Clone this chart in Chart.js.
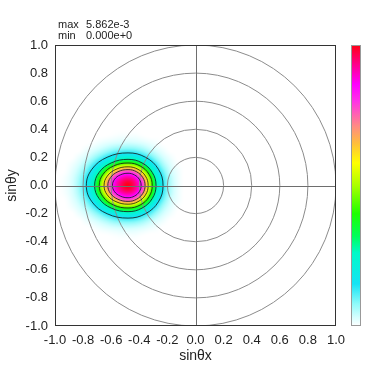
<!DOCTYPE html>
<html>
<head>
<meta charset="utf-8">
<script src="https://cdn.jsdelivr.net/npm/chart.js@4.4.0/dist/chart.umd.min.js"></script>
<style>
  html, body { margin: 0; padding: 0; background: #fff; }
  #wrap { width: 392px; height: 377px; }
</style>
</head>
<body>
<div id="wrap"><canvas id="beamChart"></canvas></div>
<script>
// Axis ticks
var tickMin = -1.0;
var tickMax = 1.0;
var tickStep = 0.2;

// Colour range shown at the top left
var valueMax = 5.862e-3;
var valueMin = 0.0;

// Heat map grid, values in units of 1e-3 (rows from top y=0.35 to bottom y=-0.35)
var gridX = [-0.93, -0.88, -0.83, -0.78, -0.73, -0.68, -0.63, -0.58, -0.53, -0.48,
             -0.43, -0.38, -0.33, -0.28, -0.23, -0.18, -0.13, -0.08, -0.03];
var gridY = [0.35, 0.30, 0.25, 0.20, 0.15, 0.10, 0.05, 0.00,
             -0.05, -0.10, -0.15, -0.20, -0.25, -0.30, -0.35];
var heatValues = [
    [0.00, 0.00, 0.00, 0.00, 0.00, 0.00, 0.01, 0.03, 0.05, 0.05, 0.05, 0.02, 0.00, 0.00, 0.00, 0.00, 0.00, 0.00, 0.00],
    [0.00, 0.00, 0.00, 0.00, 0.03, 0.08, 0.13, 0.17, 0.20, 0.22, 0.20, 0.16, 0.10, 0.05, 0.00, 0.00, 0.00, 0.00, 0.00],
    [0.00, 0.00, 0.00, 0.07, 0.15, 0.25, 0.37, 0.50, 0.58, 0.61, 0.57, 0.45, 0.30, 0.17, 0.07, 0.00, 0.00, 0.00, 0.00],
    [0.00, 0.00, 0.08, 0.18, 0.35, 0.57, 0.84, 1.09, 1.29, 1.37, 1.25, 1.00, 0.69, 0.40, 0.19, 0.07, 0.00, 0.00, 0.00],
    [0.00, 0.06, 0.17, 0.35, 0.66, 1.06, 1.59, 2.19, 2.65, 2.81, 2.57, 1.97, 1.25, 0.75, 0.36, 0.15, 0.03, 0.00, 0.00],
    [0.01, 0.11, 0.27, 0.56, 1.02, 1.71, 2.68, 3.66, 4.37, 4.59, 4.27, 3.27, 2.12, 1.14, 0.58, 0.23, 0.08, 0.00, 0.00],
    [0.04, 0.15, 0.36, 0.75, 1.34, 2.36, 3.64, 4.81, 5.30, 5.47, 5.23, 4.41, 2.86, 1.53, 0.76, 0.32, 0.10, 0.00, 0.00],
    [0.05, 0.16, 0.40, 0.81, 1.48, 2.61, 4.06, 5.06, 5.59, 5.86, 5.51, 4.79, 3.15, 1.68, 0.83, 0.34, 0.11, 0.00, 0.00],
    [0.04, 0.15, 0.36, 0.75, 1.34, 2.36, 3.64, 4.81, 5.30, 5.47, 5.23, 4.41, 2.86, 1.53, 0.76, 0.32, 0.10, 0.00, 0.00],
    [0.01, 0.11, 0.27, 0.56, 1.02, 1.71, 2.68, 3.66, 4.37, 4.59, 4.27, 3.27, 2.12, 1.14, 0.58, 0.23, 0.08, 0.00, 0.00],
    [0.00, 0.06, 0.17, 0.35, 0.66, 1.06, 1.59, 2.19, 2.65, 2.81, 2.57, 1.97, 1.25, 0.75, 0.36, 0.15, 0.03, 0.00, 0.00],
    [0.00, 0.00, 0.08, 0.18, 0.35, 0.57, 0.84, 1.09, 1.29, 1.37, 1.25, 1.00, 0.69, 0.40, 0.19, 0.07, 0.00, 0.00, 0.00],
    [0.00, 0.00, 0.00, 0.07, 0.15, 0.25, 0.37, 0.50, 0.58, 0.61, 0.57, 0.45, 0.30, 0.17, 0.07, 0.00, 0.00, 0.00, 0.00],
    [0.00, 0.00, 0.00, 0.00, 0.03, 0.08, 0.13, 0.17, 0.20, 0.22, 0.20, 0.16, 0.10, 0.05, 0.00, 0.00, 0.00, 0.00, 0.00],
    [0.00, 0.00, 0.00, 0.00, 0.00, 0.00, 0.01, 0.03, 0.05, 0.05, 0.05, 0.02, 0.00, 0.00, 0.00, 0.00, 0.00, 0.00, 0.00]
];

// Contour lines, outer to inner (closed loops)
var contour1 = [[-0.231, 0], [-0.264, 0.116], [-0.356, 0.201], [-0.48, 0.232], [-0.629, 0.201], [-0.737, 0.116],
                [-0.777, 0], [-0.737, -0.116], [-0.629, -0.201], [-0.48, -0.232], [-0.356, -0.201], [-0.264, -0.116]];
var contour2 = [[-0.281, 0], [-0.308, 0.093], [-0.381, 0.161], [-0.48, 0.186], [-0.599, 0.161], [-0.686, 0.093],
                [-0.718, 0], [-0.686, -0.093], [-0.599, -0.161], [-0.48, -0.186], [-0.381, -0.161], [-0.308, -0.093]];
var contour3 = [[-0.308, 0], [-0.331, 0.08], [-0.394, 0.139], [-0.48, 0.16], [-0.583, 0.139], [-0.658, 0.08],
                [-0.685, 0], [-0.658, -0.08], [-0.583, -0.139], [-0.48, -0.16], [-0.394, -0.139], [-0.331, -0.08]];
var contour4 = [[-0.337, 0], [-0.356, 0.067], [-0.409, 0.115], [-0.48, 0.133], [-0.566, 0.115], [-0.628, 0.067],
                [-0.651, 0], [-0.628, -0.067], [-0.566, -0.115], [-0.48, -0.133], [-0.409, -0.115], [-0.356, -0.067]];
var contour5 = [[-0.359, 0], [-0.375, 0.056], [-0.42, 0.098], [-0.48, 0.113], [-0.552, 0.098], [-0.605, 0.056],
                [-0.624, 0], [-0.605, -0.056], [-0.552, -0.098], [-0.48, -0.113], [-0.42, -0.098], [-0.375, -0.056]];
var contour6 = [[-0.387, 0], [-0.40, 0.044], [-0.434, 0.075], [-0.48, 0.087], [-0.536, 0.075], [-0.576, 0.044],
                [-0.591, 0], [-0.576, -0.044], [-0.536, -0.075], [-0.48, -0.087], [-0.434, -0.075], [-0.40, -0.044]];
var contours = [contour1, contour2, contour3, contour4, contour5, contour6];

// Angle rings (in sin units)
var ringRadii = [0.2, 0.4, 0.6, 0.8, 1.0];

// Colour map, from 0 (white) to max (red)
var colorStops = [
    [0.00, [255, 255, 255]],
    [0.03, [215, 255, 255]],
    [0.08, [140, 250, 250]],
    [0.15, [20, 228, 245]],
    [0.26, [0, 250, 200]],
    [0.32, [0, 255, 90]],
    [0.40, [30, 255, 0]],
    [0.50, [170, 255, 0]],
    [0.58, [255, 255, 0]],
    [0.65, [255, 190, 60]],
    [0.71, [255, 140, 130]],
    [0.80, [255, 50, 230]],
    [0.86, [255, 0, 255]],
    [0.93, [255, 0, 140]],
    [1.00, [255, 0, 20]]
];

Chart.defaults.font.family = "'Liberation Sans', Arial, sans-serif";
Chart.defaults.color = "#222";

function colorAt(t) {
    if (!(t >= 0)) t = 0;
    if (t > 1) t = 1;
    for (var i = 1; i < colorStops.length; i++) {
        if (t <= colorStops[i][0]) {
            var a = colorStops[i - 1], b = colorStops[i];
            var f = (t - a[0]) / (b[0] - a[0]);
            return a[1].map(function (v, k) { return Math.round(v + (b[1][k] - v) * f); });
        }
    }
    return colorStops[colorStops.length - 1][1];
}

function gridValue(r, c) {
    if (r < 0 || r >= gridY.length || c < 0 || c >= gridX.length) return 0;
    return heatValues[r][c];
}

function catmull(p0, p1, p2, p3, t) {
    return p1 + 0.5 * t * (p2 - p0 + t * (2 * p0 - 5 * p1 + 4 * p2 - p3 + t * (3 * (p1 - p2) + p3 - p0)));
}

// smooth lookup between grid values
function sampleGrid(fc, fr) {
    var c = Math.floor(fc), r = Math.floor(fr);
    var tc = fc - c, tr = fr - r;
    var rowVals = [];
    for (var k = -1; k <= 2; k++) {
        rowVals.push(catmull(gridValue(r + k, c - 1), gridValue(r + k, c), gridValue(r + k, c + 1), gridValue(r + k, c + 2), tc));
    }
    return Math.max(0, catmull(rowVals[0], rowVals[1], rowVals[2], rowVals[3], tr));
}

var beamPlugin = {
    id: "beam",
    afterDatasetsUpdate: function (chart) {
        // contour lines are closed loops
        chart.data.datasets.forEach(function (ds, i) {
            var line = chart.getDatasetMeta(i).dataset;
            line._loop = true;
            line._fullLoop = true;
            delete line._segments;
            delete line._path;
            line._pointsUpdated = false;
        });
    },
    beforeDatasetsDraw: function (chart) {
        var ctx = chart.ctx, area = chart.chartArea;
        var xs = chart.scales.x, ys = chart.scales.y;
        var w = Math.round(area.right - area.left), h = Math.round(area.bottom - area.top);
        var off = document.createElement("canvas");
        off.width = w; off.height = h;
        var octx = off.getContext("2d");
        var img = octx.createImageData(w, h);
        var stepX = gridX[1] - gridX[0], stepY = gridY[0] - gridY[1];
        var maxK = valueMax * 1000;
        for (var py = 0; py < h; py++) {
            var yv = ys.getValueForPixel(area.top + py + 0.5);
            var fr = (gridY[0] - yv) / stepY;
            for (var px = 0; px < w; px++) {
                var xv = xs.getValueForPixel(area.left + px + 0.5);
                var fc = (xv - gridX[0]) / stepX;
                var v = 0;
                if (fc > -1 && fc < gridX.length && fr > -1 && fr < gridY.length) v = sampleGrid(fc, fr);
                var col = colorAt(v / maxK);
                var idx = (py * w + px) * 4;
                img.data[idx] = col[0]; img.data[idx + 1] = col[1]; img.data[idx + 2] = col[2]; img.data[idx + 3] = 255;
            }
        }
        octx.putImageData(img, 0, 0);
        ctx.save();
        ctx.drawImage(off, area.left, area.top);

        ctx.beginPath();
        ctx.rect(area.left, area.top, area.right - area.left, area.bottom - area.top);
        ctx.clip();

        // rings
        var cx = xs.getPixelForValue(0), cy = ys.getPixelForValue(0);
        ctx.strokeStyle = "#8c8c8c";
        ctx.lineWidth = 1;
        ringRadii.forEach(function (r) {
            var rx = xs.getPixelForValue(r) - cx;
            var ry = cy - ys.getPixelForValue(r);
            ctx.beginPath();
            ctx.ellipse(cx, cy, rx, ry, 0, 0, Math.PI * 2);
            ctx.stroke();
        });
        ctx.restore();
    },
    afterDatasetsDraw: function (chart) {
        var ctx = chart.ctx, area = chart.chartArea;
        var xs = chart.scales.x, ys = chart.scales.y;
        var cx = Math.round(xs.getPixelForValue(0)) + 0.5, cy = Math.round(ys.getPixelForValue(0)) + 0.5;
        ctx.save();
        // cross lines
        ctx.strokeStyle = "#6e6e6e";
        ctx.lineWidth = 1;
        ctx.beginPath();
        ctx.moveTo(cx, area.top);
        ctx.lineTo(cx, area.bottom);
        ctx.stroke();
        ctx.beginPath();
        ctx.moveTo(area.left, cy);
        ctx.lineTo(area.right, cy);
        ctx.stroke();
        // frame
        ctx.strokeStyle = "#333";
        ctx.strokeRect(area.left + 0.5, area.top + 0.5, area.right - area.left - 1, area.bottom - area.top - 1);
        ctx.restore();
    },
    afterDraw: function (chart) {
        var ctx = chart.ctx, area = chart.chartArea;
        ctx.save();
        // colour bar
        var barLeft = area.right + 15, barWidth = 10;
        var grad = ctx.createLinearGradient(0, area.bottom, 0, area.top);
        colorStops.forEach(function (s) {
            grad.addColorStop(s[0], "rgb(" + s[1].join(",") + ")");
        });
        ctx.fillStyle = grad;
        ctx.fillRect(barLeft, area.top, barWidth, area.bottom - area.top);
        ctx.strokeStyle = "#999";
        ctx.lineWidth = 1;
        ctx.strokeRect(barLeft + 0.5, area.top + 0.5, barWidth - 1, area.bottom - area.top - 1);

        // max / min text
        ctx.fillStyle = "#222";
        ctx.font = "11px 'Liberation Sans', Arial, sans-serif";
        ctx.textBaseline = "alphabetic";
        ctx.fillText("max", 58, 28);
        ctx.fillText(valueMax.toExponential(3), 86, 28);
        ctx.fillText("min", 58, 39);
        ctx.fillText(valueMin.toExponential(3), 86, 39);
        ctx.restore();
    }
};

function tickLabel(v) {
    if (Math.abs(v) < 1e-9) return "0.0";
    return v.toFixed(1);
}

var contourDatasets = contours.map(function (c) {
    return {
        data: c.map(function (p) { return { x: p[0], y: p[1] }; }),
        showLine: true,
        borderColor: "rgba(20, 30, 30, 0.85)",
        backgroundColor: "rgba(0, 0, 0, 0)",
        borderWidth: 1,
        pointRadius: 0,
        tension: 0.4,
        spanGaps: true,
        fill: false
    };
});

var ctxBeam = document.getElementById("beamChart").getContext("2d");
var beamChart = new Chart(ctxBeam, {
    type: "scatter",
    data: { datasets: contourDatasets },
    options: {
        responsive: true,
        maintainAspectRatio: false,
        animation: false,
        layout: { padding: { left: 0, right: 56, top: 45, bottom: 0 } },
        plugins: { legend: { display: false }, tooltip: { enabled: false } },
        scales: {
            x: {
                type: "linear",
                min: tickMin,
                max: tickMax,
                grid: { display: false, drawTicks: false },
                border: { display: false },
                ticks: { stepSize: tickStep, padding: 7, maxRotation: 0, autoSkip: false,
                         font: { size: 13 }, color: "#222", callback: tickLabel },
                title: { display: true, text: "sinθx", color: "#222", font: { size: 14 },
                         padding: { top: 0, bottom: 12 } },
                afterFit: function (s) { s.height = 51; }
            },
            y: {
                type: "linear",
                min: tickMin,
                max: tickMax,
                grid: { display: false, drawTicks: false },
                border: { display: false },
                ticks: { stepSize: tickStep, padding: 7, autoSkip: false,
                         font: { size: 13 }, color: "#222", callback: tickLabel },
                title: { display: true, text: "sinθy", color: "#222", font: { size: 14 },
                         padding: { top: 4, bottom: 0 } },
                afterFit: function (s) { s.width = 55; }
            }
        }
    },
    plugins: [beamPlugin]
});
</script>
</body>
</html>
